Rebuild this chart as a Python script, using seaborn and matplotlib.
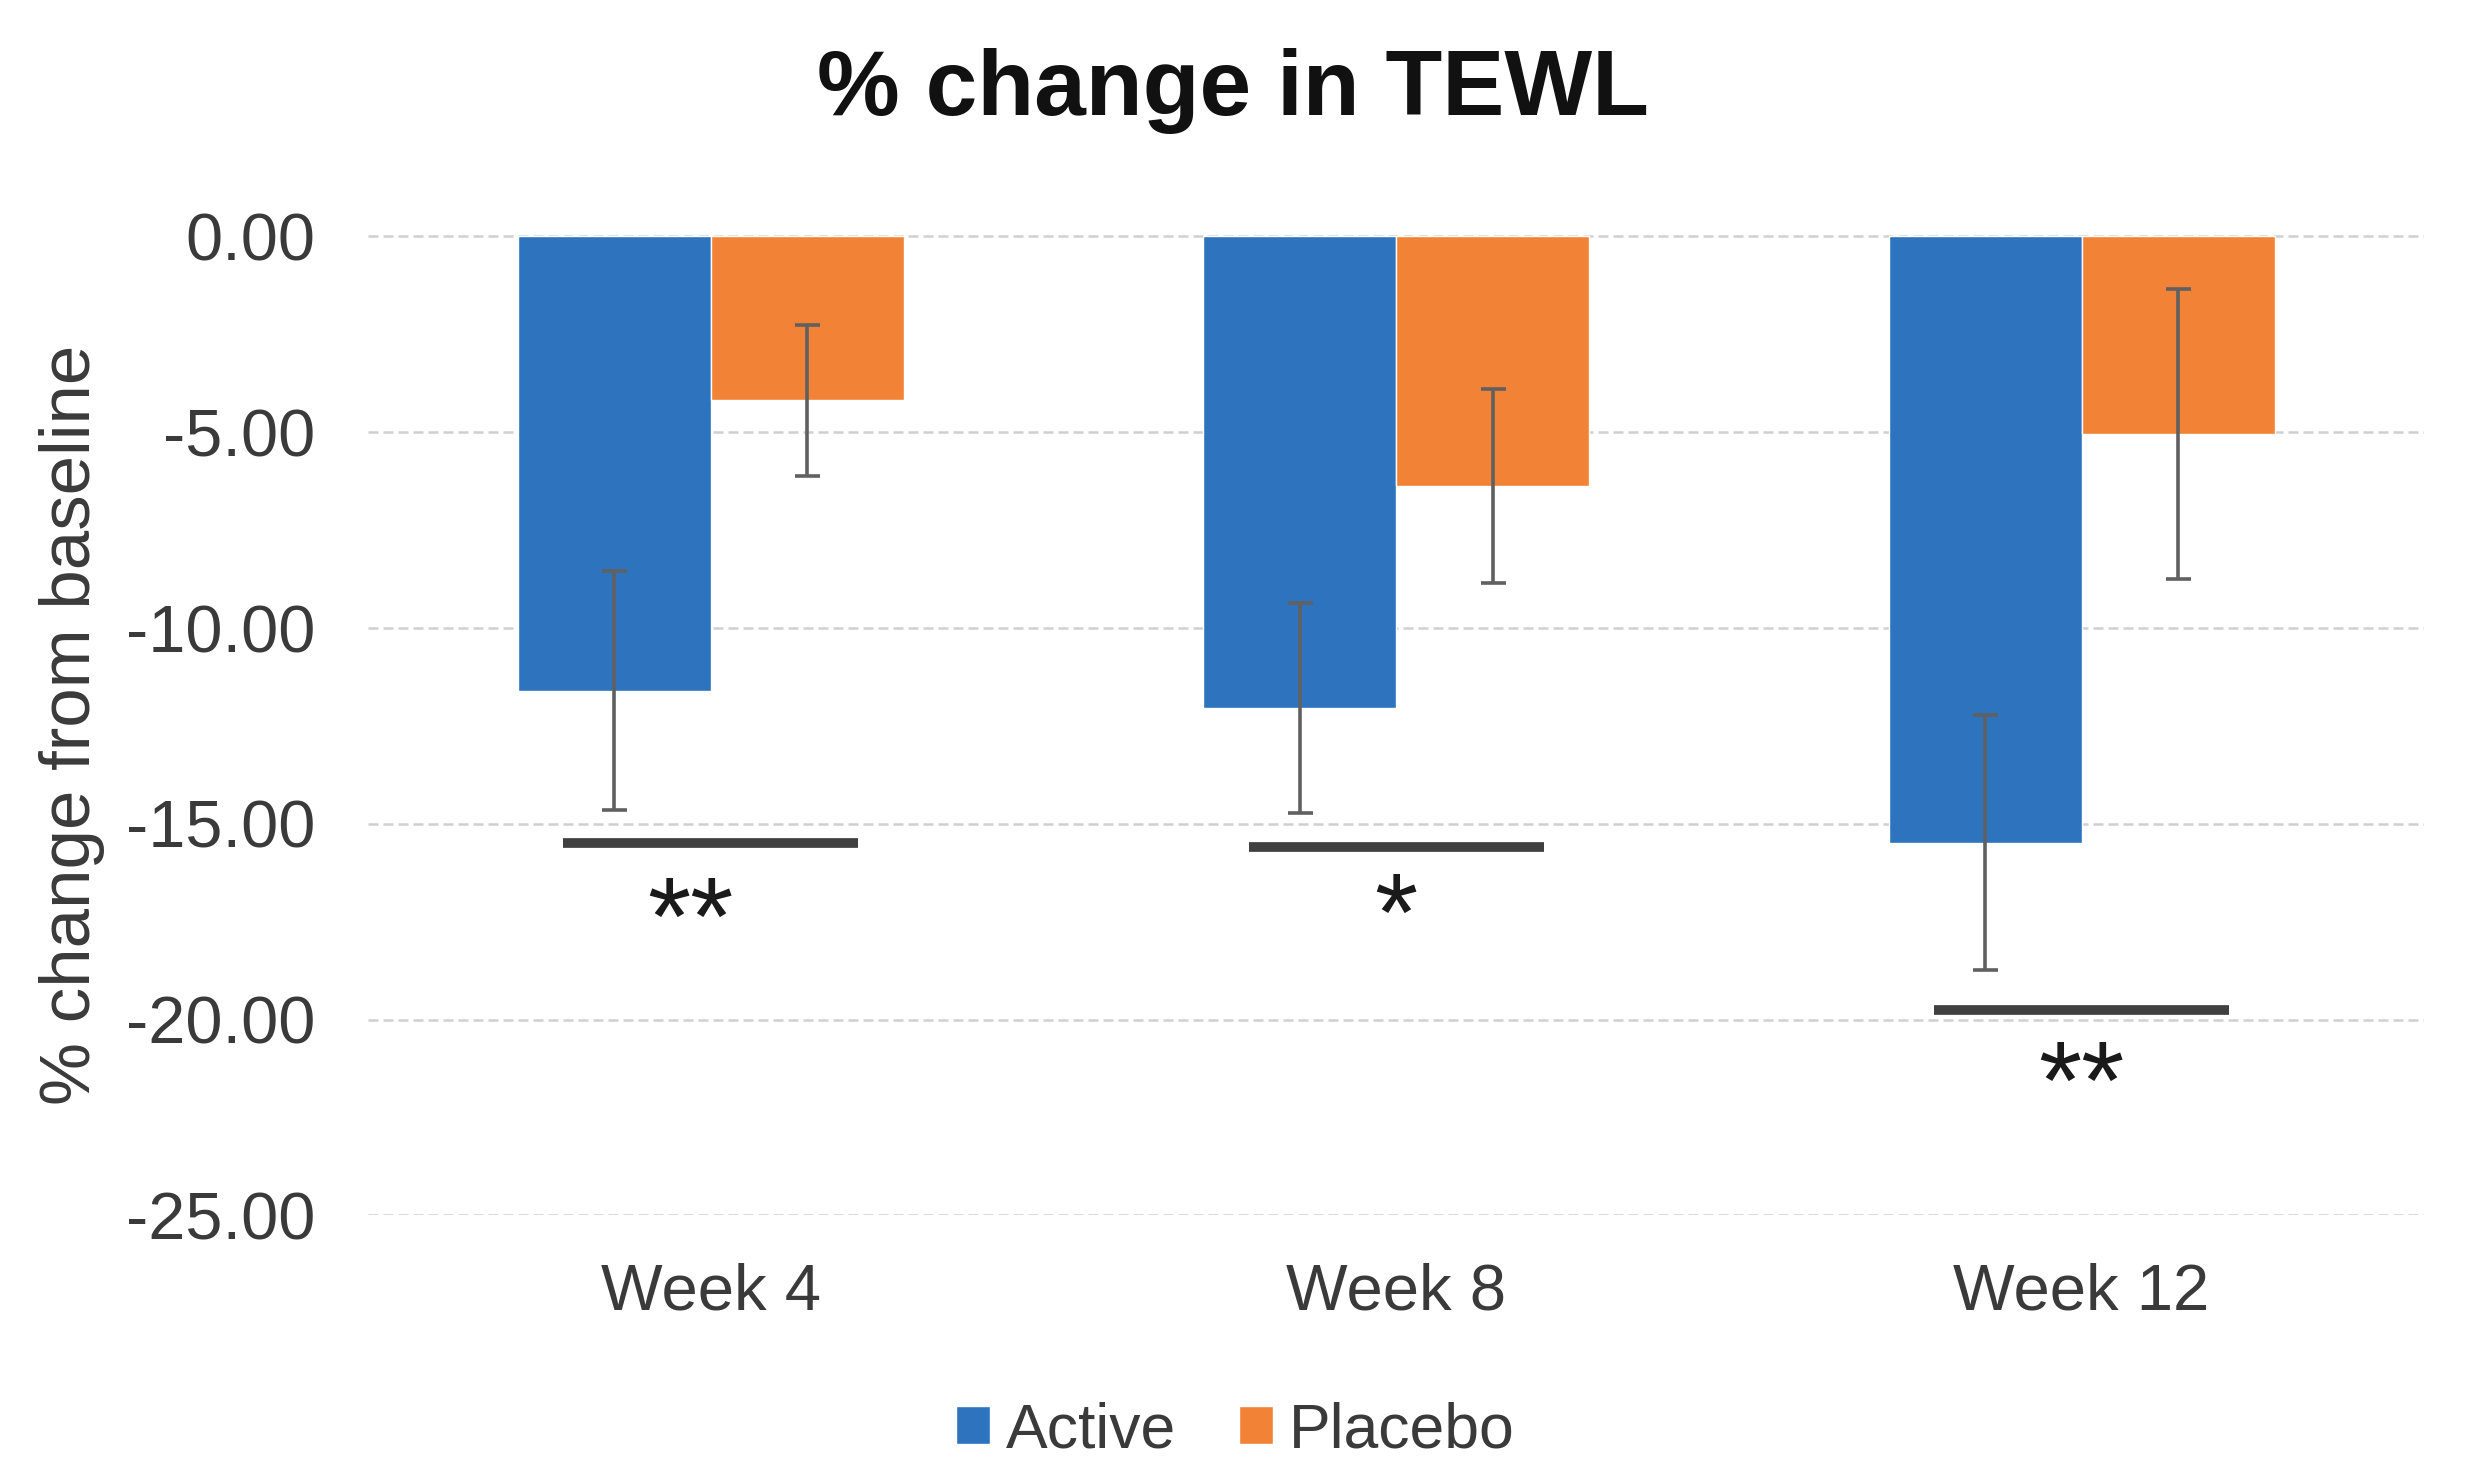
import matplotlib
matplotlib.use("Agg")
import matplotlib.pyplot as plt
import seaborn as sns
import pandas as pd
import numpy as np

# ---- data ----
weeks = ["Week 4", "Week 8", "Week 12"]
groups = ["Active", "Placebo"]
active_mean = [-11.6, -12.05, -15.48]
active_err = [3.05, 2.68, 3.26]
placebo_mean = [-4.18, -6.37, -5.04]
placebo_err = [1.93, 2.48, 3.71]
sig_labels = ["**", "*", "**"]
sig_line_y = [-15.5, -15.6, -19.75]
sig_text_y = [-17.6, -17.5, -21.8]
yticks = [0, -5, -10, -15, -20, -25]

df = pd.DataFrame({
    "Week": weeks * 2,
    "Group": ["Active"] * 3 + ["Placebo"] * 3,
    "Value": active_mean + placebo_mean,
})
errs = {"Active": active_err, "Placebo": placebo_err}

sns.set_style("white")
plt.rcParams["font.family"] = ["Liberation Sans", "DejaVu Sans"]

fig = plt.figure(figsize=(24.7, 14.84), dpi=100)
ax = fig.add_axes([0.149, 0.181, 0.8325, 0.661])

palette = {"Active": "#2E73BE", "Placebo": "#F28235"}
sns.barplot(data=df, x="Week", y="Value", hue="Group", order=weeks,
            hue_order=groups, palette=palette, width=0.563, dodge=True,
            errorbar=None, saturation=1, ax=ax, zorder=3)

# error bars
for cont, g in zip(ax.containers, groups):
    xs = [p.get_x() + p.get_width() / 2 for p in cont.patches]
    ys = [p.get_y() + p.get_height() for p in cont.patches]
    ax.errorbar(xs, ys, yerr=errs[g], fmt="none", ecolor="#606060",
                elinewidth=2.6, capsize=9, capthick=2.6, zorder=4)

# significance markers
star_dx = [-0.03, 0.0, 0.0]
for i, (lab, ly, ty) in enumerate(zip(sig_labels, sig_line_y, sig_text_y)):
    ax.plot([i - 0.215, i + 0.215], [ly, ly], color="#404040", lw=7,
            solid_capstyle="butt", zorder=5)
    ax.text(i + star_dx[i], ty, lab, ha="center", va="center", fontsize=80,
            color="#1a1a1a", zorder=5)

ax.set_ylim(-25, 0.05)
ax.set_xlim(-0.5, 2.5)
ax.set_yticks(yticks)
ax.set_yticklabels([f"{v:.2f}" if v != 0 else "0.00" for v in yticks])
ax.grid(axis="y", color="#d0d0d0", linestyle=(0, (4, 2)), lw=1.8, zorder=0)
ax.grid(axis="x", visible=False)
for s in ax.spines.values():
    s.set_visible(False)
ax.tick_params(axis="both", length=0, colors="#404040")
ax.tick_params(axis="y", pad=38, labelsize=48)
ax.tick_params(axis="x", pad=34, labelsize=47)
for t in ax.get_xticklabels() + ax.get_yticklabels():
    t.set_color("#3a3a3a")

ax.set_xlabel("")
ax.set_ylabel("% change from baseline", fontsize=51, color="#3a3a3a")
ax.yaxis.set_label_coords(-0.128, 0.5)

fig.text(0.499, 0.939, "% change in TEWL", ha="center", va="center",
         fontsize=67, fontweight="bold", color="#111111")

handles, labels = ax.get_legend_handles_labels()
if ax.legend_:
    ax.legend_.remove()
fig.legend(handles, labels, loc="center", bbox_to_anchor=(0.5, 0.036),
           ncol=2, frameon=False, fontsize=45, handlelength=0.55,
           handleheight=0.55, handletextpad=0.25, columnspacing=1.0,
           labelcolor="#3a3a3a")

fig.savefig("out.png", dpi=100)
